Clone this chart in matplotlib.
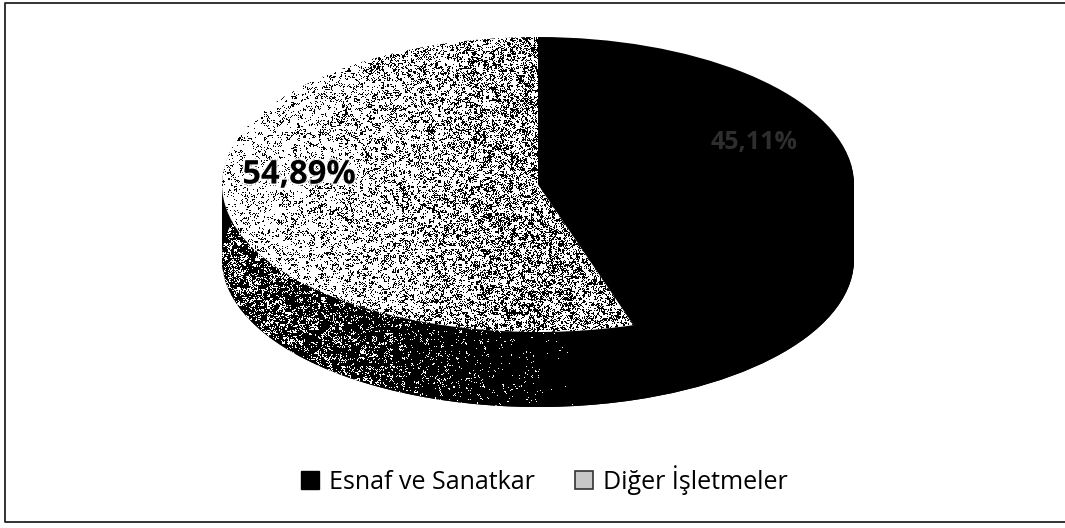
import matplotlib
matplotlib.use('Agg')
import matplotlib.pyplot as plt
import matplotlib.patheffects as pe
from matplotlib.lines import Line2D
from matplotlib.patches import Rectangle
import numpy as np

# ============================================================
# Data
# ============================================================
categories = ['Esnaf ve Sanatkar', 'Diğer İşletmeler']
shares = [45.11, 54.89]
share_labels = ['45,11%', '54,89%']

plt.rcParams['font.family'] = ['Open Sans', 'DejaVu Sans']

W, H = 1065, 528
cx, cy = 538, 184.5    # pie centre in pixels
rx, ry = 316, 147.5    # radii of the tilted top face
depth = 75             # height of the side wall in pixels

fig = plt.figure(figsize=(W / 100, H / 100), dpi=100)
ax = fig.add_axes([0, 0, 1, 1])
extent = [-cx / rx, (W - cx) / rx, (cy - H) / ry, cy / ry]


def pie_at(offset, colors, zorder):
    wedges, _ = ax.pie(shares, colors=colors, startangle=90, counterclock=False,
                       radius=1, center=(0, -offset / ry),
                       wedgeprops={'linewidth': 0, 'zorder': zorder})
    return wedges


# Scanned print look: this speckle is only surface texture, not chart data
rng = np.random.default_rng(7)


def speckle(density):
    fine = rng.random((H, W))
    coarse = np.kron(rng.random((H // 3 + 1, W // 3 + 1)), np.ones((3, 3)))[:H, :W]
    return (0.55 * fine + 0.45 * coarse) < density


def texture(mask, rgb, clip, zorder):
    img = np.zeros((H, W, 4))
    img[..., :3] = rgb
    img[..., 3] = mask
    im = ax.imshow(img, extent=extent, origin='upper', aspect='auto',
                   interpolation='nearest', zorder=zorder)
    im.set_clip_path(clip)


# Side wall: stacked copies of the pie going down
for off in range(depth, 0, -2):
    bottom = pie_at(off, ['black', 'black'], 2)
bottom = pie_at(depth, ['black', 'black'], 2)

xs = np.arange(W)
wall_density = np.interp(xs, [222, 300, 420, 540, 590], [0.40, 0.36, 0.22, 0.09, 0.0])
texture(speckle(wall_density[None, :]), (1, 1, 1), bottom[1], 3)

# Top face
top = pie_at(0, ['black', 'white'], 4)
face_density = np.interp(xs, [222, 330, 538], [0.24, 0.32, 0.47])
texture(speckle(face_density[None, :]), (0, 0, 0), top[1], 5)

ax.set_xlim(extent[0], extent[1])
ax.set_ylim(extent[2], extent[3])
ax.set_aspect('auto')
ax.axis('off')


def px(x, y):
    return (x - cx) / rx, (cy - y) / ry


# Value labels
tx, ty = px(299, 175)
ax.text(tx, ty, share_labels[1], fontsize=23.5, fontweight='bold', color='black',
        ha='center', va='center', zorder=7,
        path_effects=[pe.withStroke(linewidth=3, foreground='white', alpha=0.8)])
tx, ty = px(754, 143)
ax.text(tx, ty, share_labels[0], fontsize=18, fontweight='bold', color='#2e2e2e',
        ha='center', va='center', zorder=7)

# Legend
handles = [Rectangle((0, 0), 1, 1, fc='black', ec='black'),
           Rectangle((0, 0), 1, 1, fc='#c8c8c8', ec='#333333', lw=1.2)]
fig.legend(handles, categories, loc='center', bbox_to_anchor=(544 / W, 1 - 480 / H),
           ncol=2, frameon=False, fontsize=18, handlelength=0.72, handleheight=0.72,
           handletextpad=0.4, columnspacing=1.6, borderpad=0, borderaxespad=0)

# Chart border: top, left and bottom only, it runs off the right edge of the scan
border_x = [1, 5 / W, 5 / W, 1]
border_y = [1 - 3 / H, 1 - 3 / H, 1 - 521.5 / H, 1 - 521.5 / H]
fig.add_artist(Line2D(border_x, border_y, transform=fig.transFigure,
                      color='#222222', lw=1.3))

fig.savefig('out.png', dpi=100, facecolor='white')
